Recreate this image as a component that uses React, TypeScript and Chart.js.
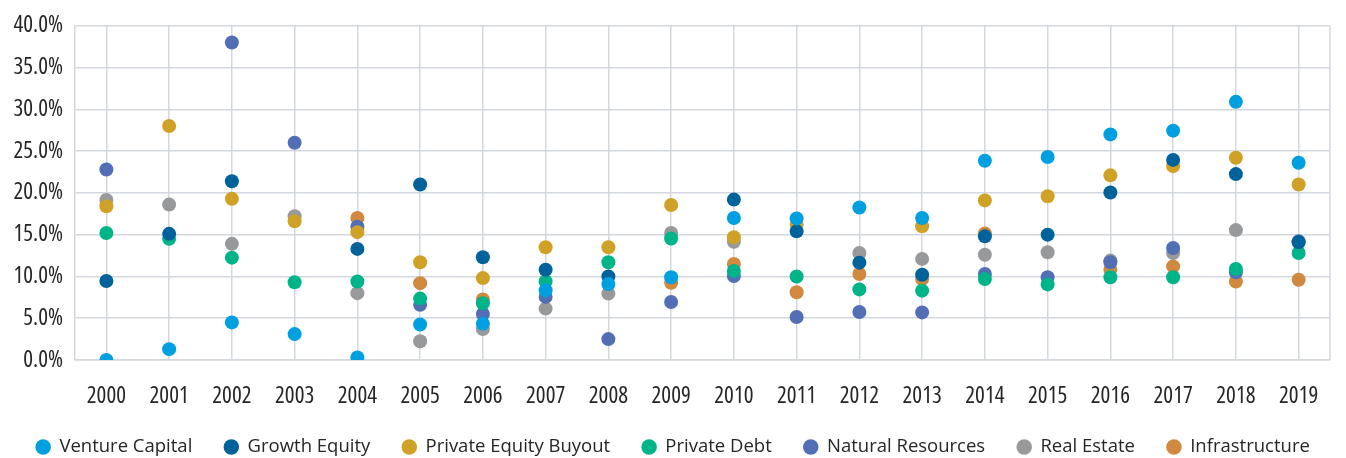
import React, { useEffect, useRef } from "react";
import { Chart, registerables } from "chart.js";

Chart.register(...registerables);

const years = ["2000","2001","2002","2003","2004","2005","2006","2007","2008","2009","2010","2011","2012","2013","2014","2015","2016","2017","2018","2019"];

const ventureCapital = [0.0, 1.3, 4.5, 3.1, 0.3, 4.25, 4.35, 8.35, 9.1, 9.9, 17.0, 16.95, 18.25, 17.0, 23.85, 24.3, 27.0, 27.45, 30.9, 23.6];
const growthEquity = [9.45, 15.1, 21.4, null, 13.3, 21.0, 12.3, 10.8, 10.0, null, 19.2, 15.4, 11.65, 10.2, 14.8, 15.0, 20.05, 23.95, 22.25, 14.1];
const privateEquityBuyout = [18.4, 28.0, 19.3, 16.6, 15.3, 11.7, 9.8, 13.5, 13.5, 18.55, 14.7, 16.2, null, 16.0, 19.1, 19.6, 22.1, 23.2, 24.2, 21.0];
const privateDebt = [15.2, 14.5, 12.25, 9.3, 9.4, 7.35, 6.8, 9.4, 11.7, 14.55, 10.65, 10.0, 8.45, 8.3, 9.7, 9.05, 9.9, 9.9, 10.9, 12.8];
const naturalResources = [22.8, null, 38.0, 26.0, 15.95, 6.6, 5.5, 7.55, 2.5, 6.95, 10.05, 5.15, 5.75, 5.7, 10.3, 9.9, 11.7, 13.4, 10.5, 14.2];
const realEstate = [19.15, 18.6, 13.9, 17.2, 8.0, 2.25, 3.7, 6.15, 7.95, 15.2, 14.15, null, 12.8, 12.1, 12.6, 12.9, 11.9, 12.8, 15.55, null];
const infrastructure = [null, null, null, null, 17.0, 9.2, 7.25, null, null, 9.25, 11.5, 8.1, 10.3, 9.7, 15.15, null, 10.8, 11.2, 9.4, 9.6];

const yTicks = [0, 5, 10, 15, 20, 25, 30, 35, 40];

const seriesNames = ["Venture Capital", "Growth Equity", "Private Equity Buyout", "Private Debt", "Natural Resources", "Real Estate", "Infrastructure"];
const seriesColors = ["#009fdf", "#00629b", "#cfa126", "#00b48a", "#526eb5", "#97999b", "#d0893f"];
const seriesValues = [ventureCapital, growthEquity, privateEquityBuyout, privateDebt, naturalResources, realEstate, infrastructure];

const FONT = "'Open Sans', sans-serif";
const TEXT = "#262626";
const GRID = "#d3d8de";

const rightBorder = {
  id: "rightBorder",
  afterDraw(chart: any) {
    const { ctx, chartArea } = chart;
    ctx.save();
    ctx.strokeStyle = GRID;
    ctx.lineWidth = 1.5;
    ctx.beginPath();
    ctx.moveTo(chartArea.right, chartArea.top);
    ctx.lineTo(chartArea.right, chartArea.bottom);
    ctx.stroke();
    ctx.restore();
  },
};

// lift the legend row a little closer to the axis labels (keep its bottom edge)
const legendLift = {
  id: "legendLift",
  afterLayout(chart: any) {
    const l = chart.legend;
    if (l) {
      l.top -= 4;
    }
  },
};

export default function App() {
  const ref = useRef<HTMLCanvasElement>(null);
  useEffect(() => {
    document.body.style.margin = "0";
    const chart = new Chart(ref.current!, {
      type: "line",
      data: {
        labels: years,
        datasets: seriesNames.map((name, i) => ({
          label: name,
          data: seriesValues[i],
          showLine: false,
          pointRadius: 7,
          pointHoverRadius: 7,
          pointBorderWidth: 0,
          pointBackgroundColor: seriesColors[i],
          pointBorderColor: seriesColors[i],
          backgroundColor: seriesColors[i],
          borderColor: seriesColors[i],
        })),
      },
      options: {
        animation: false,
        responsive: false,
        layout: { padding: { left: 0, right: 0, top: 13, bottom: 0 } },
        plugins: {
          tooltip: { enabled: false },
          legend: {
            position: "bottom",
            maxHeight: 48.25,
            labels: {
              usePointStyle: true,
              pointStyle: "circle",
              boxWidth: 14,
              boxHeight: 11,
              padding: 32,
              color: TEXT,
              font: { family: FONT, size: 18.5 },
            },
          },
        },
        scales: {
          x: {
            offset: true,
            grid: { offset: false, color: GRID, lineWidth: 1.5, drawTicks: false },
            border: { display: true, color: GRID, width: 1.5 },
            ticks: { color: TEXT, font: { family: FONT, size: 23, weight: "condensed" as any }, padding: 23, maxRotation: 0, autoSkip: false },
            afterFit: (axis: any) => {
              axis.height = 49.75;
            },
          },
          y: {
            min: 0,
            max: 40,
            afterBuildTicks: (axis: any) => {
              axis.ticks = yTicks.map((v) => ({ value: v }));
            },
            afterFit: (axis: any) => {
              axis.width = 75;
            },
            grid: { color: GRID, lineWidth: 1.5, drawTicks: false },
            border: { display: true, color: GRID, width: 1.5 },
            ticks: {
              color: TEXT,
              font: { family: FONT, size: 23, weight: "condensed" as any },
              padding: 12,
              callback: (v: any) => Number(v).toFixed(1) + "%",
            },
          },
          yRight: {
            type: "linear",
            position: "right",
            min: 0,
            max: 40,
            grid: { display: false, drawTicks: false },
            border: { display: false },
            ticks: { display: false },
            afterFit: (axis: any) => {
              axis.width = 16;
            },
          },
        },
      },
      plugins: [rightBorder, legendLift],
    });
    return () => chart.destroy();
  }, []);
  return (
    <div style={{ width: 1346, height: 458 }}>
      <canvas ref={ref} width={1346} height={458} />
    </div>
  );
}
